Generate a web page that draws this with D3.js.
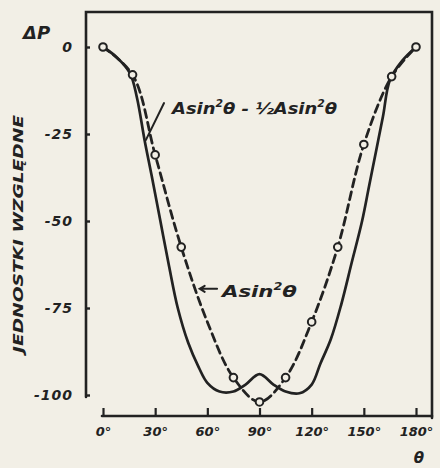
<!DOCTYPE html>
<meta charset="utf-8">
<style>
body{ margin:0; background:#f2efe6; }
svg text{
  font-family: "DejaVu Sans", sans-serif;
  font-weight: bold;
  font-style: oblique;
  fill: #222;
}
.ink{ stroke:#222; fill:none; stroke-linecap:round; }
</style>
<body>
<div id="chart"></div>
<script src="https://d3js.org/d3.v7.min.js"></script>
<script>

// theta in degrees, values in relative units
var thetaTicks = [0, 30, 60, 90, 120, 150, 180];
var valueTicks = [0, -25, -50, -75, -100];

// solid curve (with the bump at 90 deg)
var solidTheta = [0, 8, 15.5, 19.5, 24, 28, 33, 38, 43, 49, 55, 60, 67, 75, 82, 90, 98, 105, 113, 120, 125, 131, 137, 143, 149, 153, 157, 161, 165, 172, 180];
var solidValue = [0, -3, -7.5, -14.5, -27, -37, -50, -63, -75, -85, -92, -96.5, -99, -99, -97, -94, -97, -99, -99.5, -97, -91, -84, -74, -62, -50, -40, -30, -20, -9.5, -4, 0];

// dashed curve, A sin^2 theta
var dashTheta = [0, 17, 30, 45, 60, 75, 90, 105, 120, 135, 150, 166, 180];
var dashValue = [0, -8, -31, -57.5, -79, -95, -102, -95, -79, -57.5, -28, -8.5, 0];
// which dashed points carry a circle
var markerTheta = [0, 17, 30, 45, 75, 90, 105, 120, 135, 150, 166, 180];

var W = 440, H = 468;

var svg = d3.select("#chart").append("svg")
    .attr("width", W)
    .attr("height", H);

svg.append("rect").attr("width", W).attr("height", H).attr("fill", "#f2efe6");

var x = d3.scaleLinear().domain([0, 180]).range([103, 416]);
var y = d3.scaleLinear().domain([0, -100]).range([47, 395]);

// frame
svg.append("path").attr("class", "ink").attr("stroke-width", 2.6)
    .attr("d", "M86,397 L86,12 L432,12 L432,418");
svg.append("line").attr("class", "ink").attr("stroke-width", 2.6)
    .attr("x1", 102).attr("x2", 432).attr("y1", 416).attr("y2", 416);

// x axis
var gx = svg.append("g")
    .attr("transform", "translate(0,416)")
    .call(d3.axisBottom(x).tickValues(thetaTicks).tickSizeInner(-8).tickSizeOuter(0)
      .tickPadding(11).tickFormat(function(d){ return d + "°"; }));
gx.select(".domain").remove();
gx.selectAll("line").attr("stroke", "#222").attr("stroke-width", 2.2);
gx.selectAll("text").attr("font-size", 13).style("font-family", null);

// y axis
var gy = svg.append("g")
    .attr("transform", "translate(86,0)")
    .call(d3.axisLeft(y).tickValues(valueTicks).tickSizeInner(-4).tickSizeOuter(0)
      .tickPadding(13).tickFormat(function(d){ return String(d); }));
gy.select(".domain").remove();
gy.selectAll("line").attr("stroke", "#222").attr("stroke-width", 2.4);
gy.selectAll("text").attr("font-size", 14).attr("letter-spacing", 1).style("font-family", null);

// curves
var line = d3.line()
    .x(function(d){ return x(d[0]); })
    .y(function(d){ return y(d[1]); })
    .curve(d3.curveCatmullRom.alpha(0.5));

var solid = solidTheta.map(function(t, i){ return [t, solidValue[i]]; });
var dashed = dashTheta.map(function(t, i){ return [t, dashValue[i]]; });

svg.append("path").datum(solid).attr("class", "ink")
    .attr("stroke-width", 2.7).attr("d", line);

svg.append("path").datum(dashed).attr("class", "ink")
    .attr("stroke-width", 2.8).attr("stroke-dasharray", "8,5").attr("stroke-linecap", "butt")
    .attr("d", line);

svg.selectAll("circle.mk")
    .data(dashed.filter(function(d){ return markerTheta.indexOf(d[0]) >= 0; }))
    .enter().append("circle")
      .attr("class", "mk")
      .attr("cx", function(d){ return x(d[0]); })
      .attr("cy", function(d){ return y(d[1]); })
      .attr("r", 3.8)
      .attr("fill", "#f2efe6")
      .attr("stroke", "#222")
      .attr("stroke-width", 2);

// labels
function label(t, v, len, parts, size){
  var tx = svg.append("text")
      .attr("x", x(t)).attr("y", y(v))
      .attr("font-size", size)
      .attr("textLength", len).attr("lengthAdjust", "spacingAndGlyphs");
  parts.forEach(function(p){
    var s = tx.append("tspan").text(p[0]);
    if (p[1] === "sup") s.attr("font-size", size * 0.6).attr("dy", -7);
    if (p[1] === "down") s.attr("dy", 7);
  });
  return tx;
}

label(39.7, -19.3, 165, [["Asin"], ["2", "sup"], ["θ - ", "down"], ["½Asin"], ["2", "sup"], ["θ", "down"]], 16);
svg.append("line").attr("class", "ink").attr("stroke-width", 2)
    .attr("x1", x(35.1)).attr("y1", y(-16.1)).attr("x2", x(24.7)).attr("y2", y(-26.7));

label(68.4, -71.8, 75, [["Asin"], ["2", "sup"], ["θ", "down"]], 16);
svg.append("path").attr("class", "ink").attr("stroke-width", 2)
    .attr("d", "M" + x(65.6) + "," + y(-69.5) + " L" + x(55.6) + "," + y(-69.5) +
               " M" + (x(55.6) + 5) + "," + (y(-69.5) - 3) + " L" + x(55.6) + "," + y(-69.5) +
               " L" + (x(55.6) + 5) + "," + (y(-69.5) + 3));

// titles
var tp = svg.append("text").attr("x", 23).attr("y", 39).attr("font-size", 18);
tp.append("tspan").text("ΔP");

svg.append("text").attr("x", 419).attr("y", 463).attr("font-size", 15)
    .attr("text-anchor", "middle").text("θ");

svg.append("text")
    .attr("transform", "translate(23,234) rotate(-90)")
    .attr("text-anchor", "middle")
    .attr("font-size", 14)
    .attr("textLength", 238).attr("lengthAdjust", "spacingAndGlyphs")
    .text("JEDNOSTKI  WZGLĘDNE");

</script>
</body>
